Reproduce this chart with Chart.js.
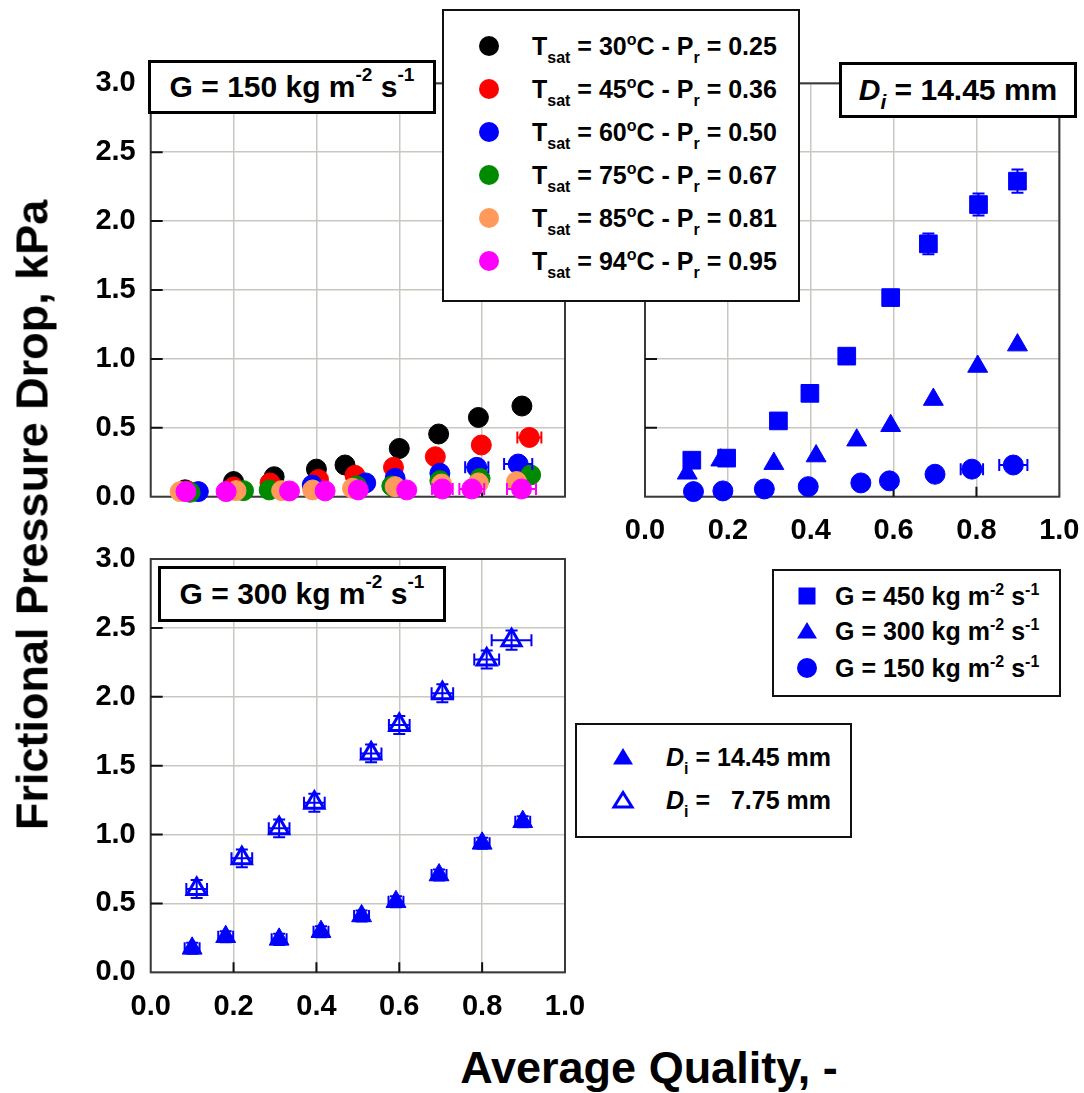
<!DOCTYPE html>
<html>
<head>
<meta charset="utf-8">
<script src="https://cdn.jsdelivr.net/npm/chart.js@4.4.0/dist/chart.umd.min.js"></script>
<style>
  body { margin: 0; background: #fff; width: 1084px; height: 1093px; position: relative; overflow: hidden;
         font-family: "Liberation Sans", Arial, sans-serif; font-weight: bold; color: #000; }
  .wrap { position: absolute; }
  .box { position: absolute; background: #fff; box-sizing: border-box; border: 3px solid #000;
         display: flex; align-items: center; justify-content: center; font-size: 30px; white-space: nowrap; }
  .legend { position: absolute; background: #fff; box-sizing: border-box; border: 2px solid #111; }
  .row { position: absolute; height: 40px; line-height: 40px; font-size: 25px; white-space: nowrap; }
  .mk { position: absolute; }
  .sub { font-size: 16px; position: relative; top: 8px; }
  .sup { font-size: 16px; position: relative; top: -10px; }
  .bsup { font-size: 19px; position: relative; top: -12px; }
  .title { position: absolute; font-size: 45px; line-height: 45px; white-space: nowrap; }
</style>
</head>
<body>

<div class="wrap" style="left:0;top:60px;width:600px;height:450px"><canvas id="chartTsat"></canvas></div>
<div class="wrap" style="left:600px;top:60px;width:484px;height:500px"><canvas id="chartFlux"></canvas></div>
<div class="wrap" style="left:0;top:540px;width:600px;height:480px"><canvas id="chartDiam"></canvas></div>

<div class="box" style="left:148px;top:60px;width:288px;height:54px">G = 150 kg m<span class="bsup">-2</span>&nbsp;s<span class="bsup">-1</span></div>
<div class="box" style="left:839px;top:62px;width:238px;height:56px"><i>D<span style="font-size:21px;position:relative;top:9px">i</span></i>&nbsp;= 14.45 mm</div>
<div class="box" style="left:158px;top:566px;width:288px;height:56px">G = 300 kg m<span class="bsup">-2</span>&nbsp;s<span class="bsup">-1</span></div>

<div class="legend" id="legTsat" style="left:442px;top:9px;width:358px;height:293px"></div>
<div class="legend" id="legFlux" style="left:772px;top:569px;width:289px;height:128px"></div>
<div class="legend" id="legDiam" style="left:575px;top:723px;width:277px;height:115px"></div>

<div class="title" style="left:32px;top:515px;transform:translate(-50%,-50%) rotate(-90deg)">Frictional Pressure Drop, kPa</div>
<div class="title" style="left:649px;top:1045px;transform:translateX(-50%)">Average Quality, -</div>

<script>
// =============================================================================
// DATA
// =============================================================================
const xTicks = [0, 0.2, 0.4, 0.6, 0.8, 1.0];
const xTickLabels = ["0.0", "0.2", "0.4", "0.6", "0.8", "1.0"];
const yTicks = [0, 0.5, 1.0, 1.5, 2.0, 2.5, 3.0];
const yTickLabels = ["0.0", "0.5", "1.0", "1.5", "2.0", "2.5", "3.0"];

// top-left: G = 150, Di = 14.45 mm, several saturation temperatures
const tsatNames = ["30", "45", "60", "75", "85", "94"];
const prNames = ["0.25", "0.36", "0.50", "0.67", "0.81", "0.95"];
const tsatColors = ["#000000", "#ff0000", "#0000ff", "#008a00", "#ff9a5c", "#ff00ff"];

const q30 = [0.083, 0.20, 0.298, 0.40, 0.469, 0.60, 0.695, 0.791, 0.896];
const dp30 = [0.05, 0.11, 0.145, 0.20, 0.23, 0.35, 0.455, 0.575, 0.658];
const q45 = [0.09, 0.20, 0.288, 0.405, 0.493, 0.586, 0.687, 0.798, 0.914];
const dp45 = [0.04, 0.07, 0.10, 0.125, 0.155, 0.213, 0.29, 0.375, 0.43];
const ex45 = [0, 0, 0, 0, 0, 0, 0, 0, 0.029];
const q60 = [0.115, 0.39, 0.519, 0.59, 0.698, 0.787, 0.887];
const dp60 = [0.037, 0.085, 0.10, 0.133, 0.17, 0.213, 0.237];
const ex60 = [0, 0, 0, 0, 0, 0.028, 0.034];
const q75 = [0.095, 0.224, 0.286, 0.497, 0.582, 0.698, 0.795, 0.917];
const dp75 = [0.032, 0.044, 0.049, 0.078, 0.078, 0.116, 0.133, 0.158];
const q85 = [0.071, 0.206, 0.316, 0.391, 0.487, 0.59, 0.702, 0.791, 0.883];
const dp85 = [0.037, 0.044, 0.044, 0.049, 0.061, 0.073, 0.092, 0.10, 0.11];
const q94 = [0.085, 0.182, 0.335, 0.421, 0.501, 0.618, 0.704, 0.775, 0.895];
const dp94 = [0.037, 0.037, 0.042, 0.042, 0.049, 0.049, 0.056, 0.056, 0.056];
const ex94 = [0, 0, 0, 0, 0, 0, 0.025, 0.03, 0.035];

// top-right: Di = 14.45 mm, three mass fluxes
const fluxNames = ["450", "300", "150"];
const fluxStyles = ["rect", "triangle", "circle"];
const q450 = [0.113, 0.197, 0.322, 0.398, 0.487, 0.593, 0.684, 0.805, 0.899];
const dp450 = [0.265, 0.28, 0.55, 0.75, 1.02, 1.445, 1.835, 2.12, 2.29];
const ey450 = [0, 0, 0, 0, 0, 0, 0.075, 0.08, 0.085];
const q300 = [0.102, 0.183, 0.311, 0.413, 0.511, 0.593, 0.696, 0.803, 0.899];
const dp300 = [0.17, 0.265, 0.24, 0.295, 0.41, 0.515, 0.705, 0.945, 1.10];
const q150 = [0.117, 0.188, 0.288, 0.394, 0.521, 0.59, 0.70, 0.789, 0.889];
const dp150 = [0.037, 0.042, 0.056, 0.073, 0.10, 0.115, 0.163, 0.20, 0.23];
const ex150 = [0, 0, 0, 0, 0, 0, 0, 0.027, 0.034];

// bottom: G = 300, two tube diameters
const diamNames = ["14.45", "&nbsp;&nbsp;7.75"];
const qD14 = [0.10, 0.181, 0.31, 0.411, 0.509, 0.592, 0.696, 0.80, 0.898];
const dpD14 = [0.174, 0.258, 0.239, 0.295, 0.409, 0.512, 0.706, 0.936, 1.093];
const exD14 = [0.018, 0.018, 0.018, 0.018, 0.018, 0.018, 0.018, 0.018, 0.018];
const eyD14 = [0.04, 0.04, 0.04, 0.04, 0.04, 0.04, 0.04, 0.04, 0.04];
const qD7 = [0.111, 0.22, 0.31, 0.395, 0.532, 0.60, 0.704, 0.811, 0.871];
const dpD7 = [0.605, 0.827, 1.045, 1.231, 1.589, 1.795, 2.025, 2.271, 2.411];
const exD7 = [0.025, 0.025, 0.025, 0.025, 0.025, 0.025, 0.026, 0.03, 0.048];
const eyD7 = [0.065, 0.065, 0.065, 0.065, 0.065, 0.065, 0.065, 0.065, 0.07];

// =============================================================================
// HELPERS
// =============================================================================
const BLUE = "#0000ff";
Chart.defaults.font.family = "'Liberation Sans', Arial, sans-serif";
Chart.defaults.font.weight = "bold";

function pts(xs, ys) {
  return xs.map((x, i) => ({ x, y: ys[i] }));
}

function series(xs, ys, color, style, radius, extra = {}) {
  return {
    data: pts(xs, ys),
    pointStyle: style,
    pointRadius: radius,
    backgroundColor: color,
    borderColor: color,
    borderWidth: 1,
    showLine: false,
    clip: false,
    ...extra
  };
}

// frame + inward tick marks
const frameTicks = {
  id: "frameTicks",
  beforeDatasetsDraw(chart) {
    const { ctx, chartArea: a, scales: { x, y } } = chart;
    ctx.save();
    ctx.strokeStyle = "#3a3a3a";
    ctx.lineWidth = 2;
    ctx.strokeRect(a.left, a.top, a.right - a.left, a.bottom - a.top);
    ctx.strokeStyle = "#111";
    ctx.beginPath();
    yTicks.slice(1, -1).forEach(v => {
      const py = y.getPixelForValue(v);
      ctx.moveTo(a.left, py);
      ctx.lineTo(a.left + 12, py);
    });
    xTicks.slice(1, -1).forEach(v => {
      const px = x.getPixelForValue(v);
      ctx.moveTo(px, a.bottom);
      ctx.lineTo(px, a.bottom - 10);
    });
    ctx.stroke();
    ctx.restore();
  }
};

// error bars from dataset.xErr / dataset.yErr
const errorBars = {
  id: "errorBars",
  afterDatasetsDraw(chart) {
    const { ctx, scales: { x, y } } = chart;
    chart.data.datasets.forEach(ds => {
      if (!ds.xErr && !ds.yErr) return;
      ctx.save();
      ctx.strokeStyle = ds.borderColor;
      ctx.lineWidth = 2;
      ctx.beginPath();
      ds.data.forEach((p, i) => {
        const px = x.getPixelForValue(p.x);
        const py = y.getPixelForValue(p.y);
        const ex = ds.xErr ? ds.xErr[i] : 0;
        const ey = ds.yErr ? ds.yErr[i] : 0;
        if (ex) {
          const l = x.getPixelForValue(p.x - ex), r = x.getPixelForValue(p.x + ex);
          ctx.moveTo(l, py); ctx.lineTo(r, py);
          ctx.moveTo(l, py - 6); ctx.lineTo(l, py + 6);
          ctx.moveTo(r, py - 6); ctx.lineTo(r, py + 6);
        }
        if (ey) {
          const t = y.getPixelForValue(p.y + ey), b = y.getPixelForValue(p.y - ey);
          ctx.moveTo(px, t); ctx.lineTo(px, b);
          ctx.moveTo(px - 6, t); ctx.lineTo(px + 6, t);
          ctx.moveTo(px - 6, b); ctx.lineTo(px + 6, b);
        }
      });
      ctx.stroke();
      ctx.restore();
    });
  }
};

function axes(showX, showY, yWidth, xHeight) {
  const grid = { color: "#c8c8c0", lineWidth: 1.5, drawTicks: false };
  return {
    x: {
      type: "linear", min: 0, max: 1,
      afterBuildTicks: s => { s.ticks = xTicks.map(v => ({ value: v })); },
      afterFit: s => { s.height = xHeight; s.paddingLeft = 0; s.paddingRight = 0; },
      ticks: {
        display: showX, padding: 17, color: "#000", maxRotation: 0,
        font: { size: 29, weight: "bold" },
        callback: (v, i) => xTickLabels[i]
      },
      grid, border: { display: false }
    },
    y: {
      type: "linear", min: 0, max: 3,
      afterBuildTicks: s => { s.ticks = yTicks.map(v => ({ value: v })); },
      afterFit: s => { s.width = yWidth; s.paddingTop = 0; s.paddingBottom = 0; },
      ticks: {
        display: showY, padding: 15, color: "#000",
        font: { size: 29, weight: "bold" },
        callback: (v, i) => yTickLabels[i]
      },
      grid, border: { display: false }
    }
  };
}

function makeChart(id, datasets, scales, padding) {
  return new Chart(document.getElementById(id), {
    type: "scatter",
    data: { datasets },
    options: {
      responsive: true,
      maintainAspectRatio: false,
      animation: false,
      events: [],
      layout: { padding },
      plugins: { legend: { display: false }, tooltip: { enabled: false } },
      scales
    },
    plugins: [frameTicks, errorBars]
  });
}

// =============================================================================
// CHARTS
// =============================================================================
const tsatX = [q30, q45, q60, q75, q85, q94];
const tsatY = [dp30, dp45, dp60, dp75, dp85, dp94];
const tsatEx = [null, ex45, ex60, null, null, ex94];

makeChart("chartTsat",
  tsatX.map((xs, i) => series(xs, tsatY[i], tsatColors[i], "circle", 10,
    { order: tsatX.length - i, xErr: tsatEx[i] })),
  axes(false, true, 150.7, 13.3),
  { left: 0, top: 23.3, right: 35, bottom: 0 });

makeChart("chartFlux", [
  series(q450, dp450, BLUE, "rect", 12.5, { yErr: ey450 }),
  series(q300, dp300, BLUE, "triangle", 11.5),
  series(q150, dp150, BLUE, "circle", 10, { xErr: ex150 })
], axes(true, false, 45, 63.3), { left: 0, top: 23.3, right: 24.7, bottom: 0 });

makeChart("chartDiam", [
  series(qD7, dpD7, BLUE, "triangle", 11, { backgroundColor: "#fff", borderWidth: 3, xErr: exD7, yErr: eyD7 }),
  series(qD14, dpD14, BLUE, "triangle", 11.5, { xErr: exD14, yErr: eyD14 })
], axes(true, true, 150.7, 47.7), { left: 0, top: 19, right: 35, bottom: 0 });

// =============================================================================
// LEGENDS
// =============================================================================
function marker(style, color, open, cx, cy) {
  let shape;
  if (style === "circle") shape = `<circle cx="12" cy="12" r="10" fill="${color}"/>`;
  else if (style === "rect") shape = `<rect x="3.5" y="3.5" width="17" height="17" fill="${color}"/>`;
  else if (open) shape = `<polygon points="12,4.5 21,19 3,19" fill="#fff" stroke="${color}" stroke-width="3"/>`;
  else shape = `<polygon points="12,3 22,19.5 2,19.5" fill="${color}"/>`;
  return `<svg class="mk" width="24" height="24" style="left:${cx - 12}px;top:${cy - 12}px">${shape}</svg>`;
}

function row(left, cy, html) {
  return `<div class="row" style="left:${left}px;top:${cy - 20}px">${html}</div>`;
}

let html = "";
tsatNames.forEach((t, i) => {
  const cy = 35.4 + i * 43;
  html += marker("circle", tsatColors[i], false, 45.3, cy);
  html += row(88, cy, `T<span class="sub">sat</span> = ${t}<span class="sup">o</span>C - P<span class="sub">r</span> = ${prNames[i]}`);
});
document.getElementById("legTsat").innerHTML = html;

html = "";
[25.4, 60.4, 97].forEach((cy, i) => {
  html += marker(fluxStyles[i], BLUE, false, 33, cy);
  html += row(61, cy, `G = ${fluxNames[i]} kg m<span class="sup">-2</span>&nbsp;s<span class="sup">-1</span>`);
});
document.getElementById("legFlux").innerHTML = html;

html = "";
[32, 74.7].forEach((cy, i) => {
  html += marker("triangle", BLUE, i === 1, 45.7, cy);
  html += row(89, cy, `<i>D</i><span class="sub">i</span> = ${diamNames[i]} mm`);
});
document.getElementById("legDiam").innerHTML = html;
</script>
</body>
</html>
